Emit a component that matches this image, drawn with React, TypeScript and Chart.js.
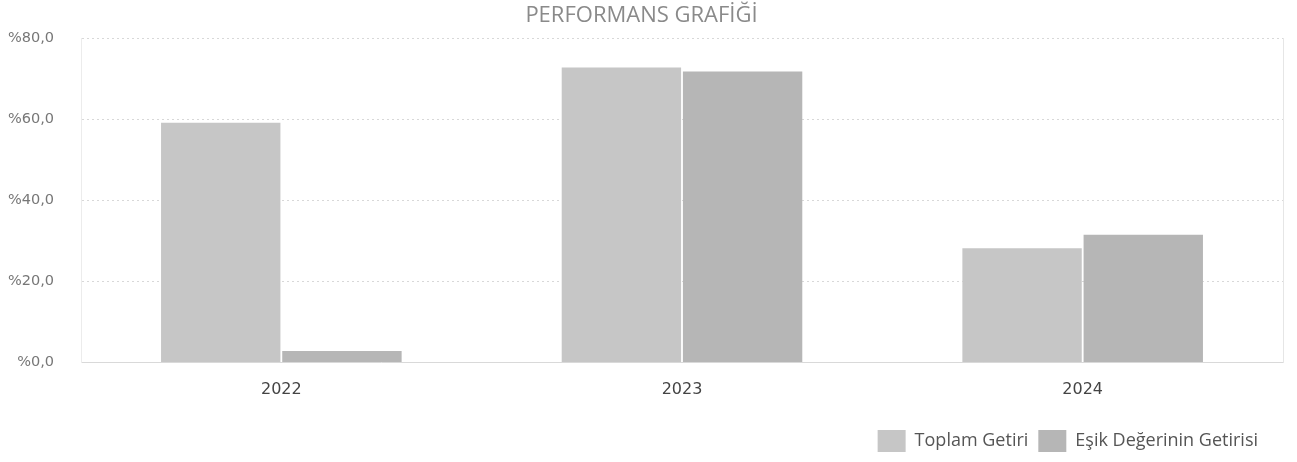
import React, { useEffect, useRef } from "react";
import { Chart, registerables } from "chart.js";

Chart.register(...registerables);

const categories = ["2022", "2023", "2024"];
const toplamGetiri = [59.2, 72.8, 28.2];
const esikGetirisi = [2.8, 71.8, 31.5];
const seriesNames = ["Toplam Getiri", "Eşik Değerinin Getirisi"];
const titleText = "PERFORMANS GRAFİĞİ";

const legendShift = {
  id: "legendShift",
  afterLayout(chart: any) {
    if (chart.legend) {
      chart.legend.right -= 15;
    }
  },
};

export default function App() {
  const ref = useRef<HTMLCanvasElement | null>(null);
  useEffect(() => {
    document.body.style.margin = "0";
    const ctx = ref.current!;
    const chart = new Chart(ctx, {
      type: "bar",
      data: {
        labels: categories,
        datasets: [
          {
            label: seriesNames[0],
            data: toplamGetiri,
            backgroundColor: "#c6c6c6",
            barPercentage: 0.985,
            categoryPercentage: 0.605,
          },
          {
            label: seriesNames[1],
            data: esikGetirisi,
            backgroundColor: "#b6b6b6",
            barPercentage: 0.985,
            categoryPercentage: 0.605,
          },
        ],
      },
      plugins: [legendShift],
      options: {
        animation: false,
        responsive: false,
        maintainAspectRatio: false,
        layout: { padding: { left: 0, right: 14, top: 0, bottom: 0 } },
        plugins: {
          title: {
            display: true,
            text: titleText,
            color: "#8a8a8a",
            font: { family: "Open Sans", size: 22, weight: "normal" },
            padding: { top: 3, bottom: 9 },
          },
          legend: {
            position: "bottom",
            align: "end",
            labels: {
              boxWidth: 28,
              boxHeight: 22,
              color: "#555",
              font: { family: "Open Sans", size: 18 },
              padding: 10,
            },
          },
          tooltip: { enabled: false },
        },
        scales: {
          x: {
            grid: { display: false },
            border: { display: true, color: "#d9d9d9" },
            ticks: {
              color: "#444",
              font: { family: "DejaVu Sans", size: 16 },
              padding: 10,
            },
            title: {
              display: true,
              text: " ",
              font: { size: 2 },
              padding: { top: 4, bottom: 4 },
            },
          },
          y: {
            min: 0,
            max: 80,
            afterFit: (scale: any) => {
              scale.width = 81;
            },
            ticks: {
              stepSize: 20,
              color: "#777",
              font: { family: "DejaVu Sans", size: 14.5 },
              padding: 27,
              callback: (v: any) => "%" + Number(v).toFixed(1).replace(".", ","),
            },
            grid: {
              color: "#d8d8d8",
              tickLength: 0,
            },
            border: { display: true, color: "#ececec", dash: [2, 3] },
          },
          yRight: {
            position: "right",
            min: 0,
            max: 80,
            afterFit: (scale: any) => {
              scale.width = 0;
            },
            ticks: { display: false },
            grid: { display: false },
            border: { display: true, color: "#e6e6e6" },
          },
        },
      },
    });
    return () => chart.destroy();
  }, []);
  return <canvas ref={ref} width={1297} height={462} style={{ display: "block" }} />;
}
